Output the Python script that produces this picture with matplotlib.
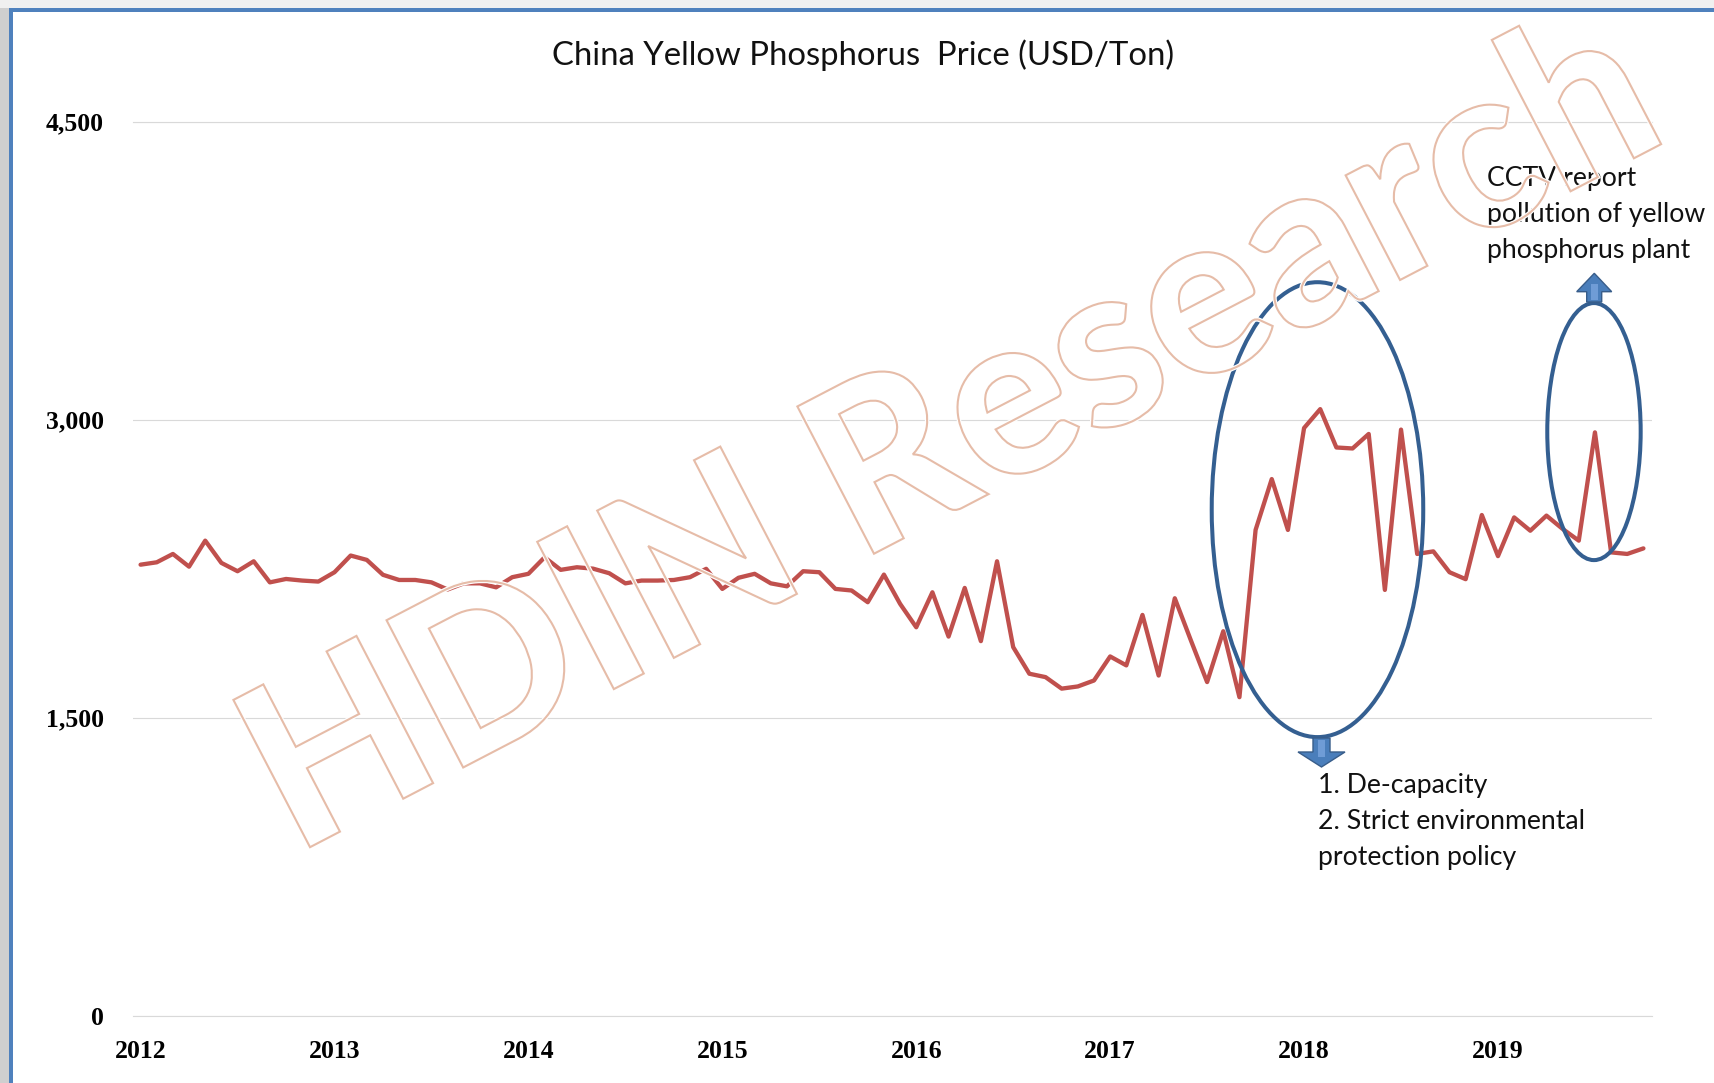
import matplotlib
matplotlib.use('Agg')
import matplotlib.pyplot as plt
import numpy as np
from matplotlib.patches import Ellipse, Polygon, PathPatch, Rectangle
from matplotlib.textpath import TextPath
from matplotlib.font_manager import FontProperties
from matplotlib.transforms import Affine2D, IdentityTransform
from matplotlib.ticker import FuncFormatter

# ---------------- data ----------------
p2012 = [2270, 2282, 2324, 2260, 2391, 2279, 2237, 2287, 2181, 2198, 2190, 2185]
p2013 = [2232, 2316, 2294, 2219, 2193, 2193, 2181, 2145, 2176, 2176, 2156, 2207]
p2014 = [2224, 2307, 2244, 2257, 2250, 2227, 2176, 2190, 2190, 2193, 2207, 2249]
p2015 = [2148, 2204, 2224, 2176, 2161, 2237, 2232, 2148, 2140, 2081, 2220, 2073]
p2016 = [1955, 2131, 1908, 2153, 1885, 2287, 1855, 1721, 1704, 1646, 1657, 1687]
p2017 = [1808, 1763, 2017, 1712, 2101, 1888, 1679, 1935, 1603, 2445, 2701, 2445]
p2018 = [2958, 3053, 2860, 2855, 2928, 2143, 2950, 2324, 2337, 2232, 2197, 2520]
p2019 = [2313, 2508, 2441, 2517, 2450, 2391, 2936, 2332, 2324, 2352]
prices = p2012 + p2013 + p2014 + p2015 + p2016 + p2017 + p2018 + p2019

year_labels = ['2012', '2013', '2014', '2015', '2016', '2017', '2018', '2019']
y_ticks = [0, 1500, 3000, 4500]

title = 'China Yellow Phosphorus  Price (USD/Ton)'
note_top = ['CCTV report', 'pollution of yellow', 'phosphorus plant']
note_bottom = ['1. De-capacity', '2. Strict environmental', 'protection policy']

# ---------------- figure ----------------
W, H = 1714, 1083
DPI = 100
fig = plt.figure(figsize=(W / DPI, H / DPI), dpi=DPI)
fig.patch.set_facecolor('white')


def fx(x):
    return x / W


def fy(y):
    return 1 - y / H


# screenshot background strips and blue frame
fig.add_artist(Rectangle((0, 0), fx(8.5), 1, transform=fig.transFigure,
                         fc='#CFCFCF', ec='none', zorder=0))
fig.add_artist(Rectangle((0, fy(7.5)), 1, 7.5 / H, transform=fig.transFigure,
                         fc='#F0F0F0', ec='none', zorder=0))
fig.add_artist(Rectangle((fx(8.5), 0), 4.2 / W, fy(7.5), transform=fig.transFigure,
                         fc='#4F81BD', ec='none', zorder=1))
fig.add_artist(Rectangle((fx(8.5), fy(11.7)), 1, 4.2 / H, transform=fig.transFigure,
                         fc='#4F81BD', ec='none', zorder=1))

ax_left, ax_right = 132.5, 1651.5
ax_top, ax_bottom = 121.7, 1015.6
ax = fig.add_axes([fx(ax_left), fy(ax_bottom), (ax_right - ax_left) / W,
                   (ax_bottom - ax_top) / H])
ax.set_facecolor('none')

x = np.arange(len(prices))
ax.plot(x, prices, color='#C0504D', lw=3.1, solid_joinstyle='round',
        solid_capstyle='round', zorder=3, clip_on=False)
ax.set_xlim(-0.5, len(prices) - 0.5)
ax.set_ylim(0, 4500)

ax.set_yticks(y_ticks)
ax.yaxis.set_major_formatter(FuncFormatter(lambda v, p: f'{int(v):,}'))
ax.set_xticks(np.arange(0, len(prices), 12))
ax.set_xticklabels(year_labels)
ax.grid(axis='y', color='#D9D9D9', lw=0.8)
ax.set_axisbelow(True)
for name, s in ax.spines.items():
    if name in ('top', 'bottom'):
        s.set_color('#D9D9D9')
        s.set_linewidth(0.8)
    else:
        s.set_visible(False)
ax.tick_params(length=0)
ax.tick_params(axis='y', pad=20.5)
ax.tick_params(axis='x', pad=17.5)
for lab in ax.get_xticklabels() + ax.get_yticklabels():
    lab.set_fontfamily('Liberation Serif')
    lab.set_fontweight('bold')
    lab.set_fontsize(18.5)
    lab.set_color('black')

# ellipses (annotation shapes, in data coordinates)
ell_color = '#345F91'
ax.add_patch(Ellipse((72.83, 2547), 13.09, 2290, fc='none', ec=ell_color,
                     lw=2.9, zorder=4, clip_on=False))
ax.add_patch(Ellipse((89.94, 2940), 5.78, 1294, fc='none', ec=ell_color,
                     lw=2.9, zorder=4, clip_on=False))

# block arrows (pixel coordinates)
def block_arrow(pts, inner):
    fig.add_artist(Polygon([(fx(a), fy(b)) for a, b in pts], closed=True,
                           transform=fig.transFigure, fc='#4A7EBB', ec='#385D8A',
                           lw=1.0, zorder=5))
    fig.add_artist(Polygon([(fx(a), fy(b)) for a, b in inner], closed=True,
                           transform=fig.transFigure, fc='#6F9CD6', ec='none',
                           zorder=6))

block_arrow([(1313, 738), (1330, 738), (1330, 752), (1345, 752), (1321.5, 767),
             (1298, 752), (1313, 752)],
            [(1318, 740), (1325, 740), (1325, 757), (1318, 757)])
block_arrow([(1586.7, 302), (1601.7, 302), (1601.7, 291.7), (1611.7, 291.7),
             (1594.3, 273.3), (1576.7, 291.7), (1586.7, 291.7)],
            [(1591, 300), (1597.5, 300), (1597.5, 284), (1591, 284)])

renderer = fig.canvas.get_renderer()

# title
t = fig.text(fx(863.5), fy(54.7), title, ha='center', va='center',
             fontsize=20, family='Lato', color='#111111')
w = t.get_window_extent(renderer).width
t.set_fontsize(20 * 623 / w)

# annotation texts
probe = fig.text(0, 0, note_bottom[1], fontsize=20, family='Lato')
w1 = probe.get_window_extent(renderer).width
probe.set_text(note_top[1])
w2 = probe.get_window_extent(renderer).width
probe.remove()
fs = 0.5 * (20 * 268 / w1 + 20 * 218 / w2)

for line, yb in zip(note_top, [186, 221.7, 258.3]):
    fig.text(fx(1486.7), fy(yb), line, ha='left', va='baseline', fontsize=fs,
             family='Lato', color='#111111')
for line, yb in zip(note_bottom, [793.3, 828.8, 865]):
    fig.text(fx(1318.3), fy(yb), line, ha='left', va='baseline', fontsize=fs,
             family='Lato', color='#111111')

# watermark
fp = FontProperties(family='Lato', weight='black')
tp = TextPath((0, 0), 'HDIN Research', size=100, prop=fp)
v = tp.vertices
xmin, xmax = v[:, 0].min(), v[:, 0].max()
capH = TextPath((0, 0), 'H', size=100, prop=fp).vertices[:, 1].max()
sx = 1540 / (xmax - xmin)
sy = 166 / capH
tr = (Affine2D().translate(-xmin, 0).scale(sx, sy).rotate_deg(27.49)
      .translate(295, H - 855))
wpath = tr.transform_path(tp)
fig.add_artist(PathPatch(wpath, fc='none', ec='white', lw=3.2,
                         transform=IdentityTransform(), zorder=20))
fig.add_artist(PathPatch(wpath, fc='none', ec='#E6BCA8', lw=1.5,
                         transform=IdentityTransform(), zorder=21))

fig.savefig('out.png', dpi=DPI, facecolor='white')
